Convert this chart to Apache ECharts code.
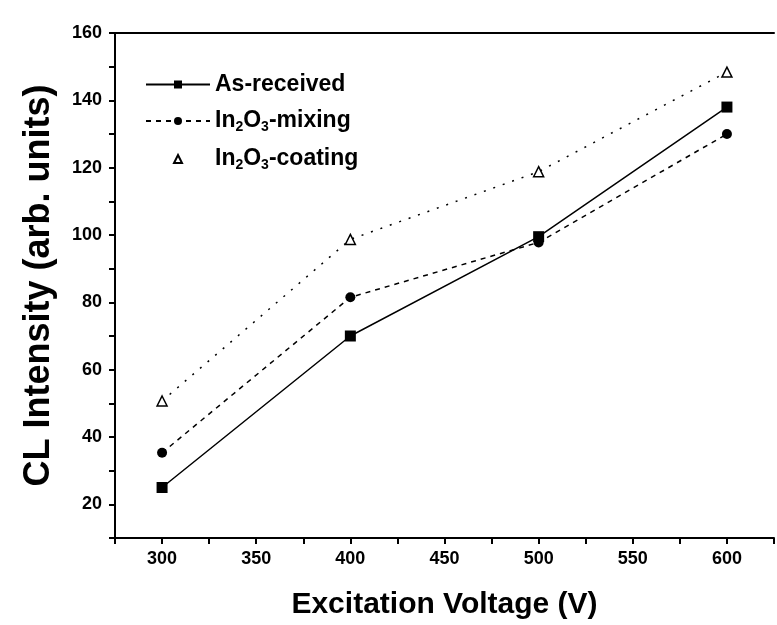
<!DOCTYPE html>
<html>
<head>
<meta charset="utf-8">
<script src="https://cdn.jsdelivr.net/npm/echarts@6/dist/echarts.min.js"></script>
<style>
  html, body { margin: 0; padding: 0; background: #fff; }
  #chart { width: 777px; height: 625px; }
</style>
</head>
<body>
<div id="chart"></div>
<script>
// data
const voltages = [300, 400, 500, 600];
const asReceived = [25, 70, 99.5, 138];
const mixing = [35.3, 81.5, 97.8, 130];
const coating = [50.7, 98.7, 118.8, 148.4];

const seriesNames = ['As-received', 'In2O3-mixing', 'In2O3-coating'];

const myChart = echarts.init(document.getElementById('chart'));

const pairs = (ys) => voltages.map((v, i) => [v, ys[i]]);

// legend labels with subscripts
function legendLabel(name) {
    if (name === 'As-received') return '{n|As-received}';
    const rest = name.replace('In2O3', '');
    return '{n|In}{s|2}{n|O}{s|3}{n|' + rest + '}';
}

const font = 'Liberation Sans, Arial, sans-serif';

let option = {
    backgroundColor: '#fff',
    animation: false,
    grid: {
        left: 115,
        top: 33,
        width: 668,
        height: 506
    },
    legend: {
        orient: 'vertical',
        left: 140,
        top: 68,
        itemWidth: 64,
        itemHeight: 10,
        itemGap: 12,
        formatter: legendLabel,
        textStyle: {
            fontFamily: font,
            fontWeight: 'bold',
            color: '#000',
            rich: {
                n: { fontSize: 23, fontWeight: 'bold', fontFamily: font, color: '#000', lineHeight: 26 },
                s: { fontSize: 14, fontWeight: 'bold', fontFamily: font, color: '#000', lineHeight: 14, padding: [12, 0, 0, 0] }
            }
        },
        data: [
            { name: 'As-received' },
            { name: 'In2O3-mixing' },
            { name: 'In2O3-coating', lineStyle: { opacity: 0 } }
        ]
    },
    xAxis: [
        {
            type: 'value',
            min: 275,
            max: 625,
            interval: 25,
            name: 'Excitation Voltage (V)',
            nameLocation: 'middle',
            nameGap: 52,
            nameTextStyle: { fontSize: 30, fontWeight: 'bold', fontFamily: font, color: '#000' },
            axisLine: { show: true, lineStyle: { color: '#000', width: 2 } },
            axisTick: { show: true, inside: false, length: 6, lineStyle: { color: '#000', width: 2 } },
            axisLabel: {
                fontSize: 18,
                fontWeight: 'bold',
                fontFamily: font,
                color: '#000',
                margin: 12,
                formatter: function (v) {
                    return (v % 50 === 0 && v >= 300 && v <= 600) ? String(v) : '';
                }
            },
            splitLine: { show: false }
        },
        {
            // top frame line
            type: 'value',
            position: 'top',
            min: 275,
            max: 625,
            axisLine: { show: true, lineStyle: { color: '#000', width: 2 } },
            axisTick: { show: false },
            axisLabel: { show: false },
            splitLine: { show: false }
        }
    ],
    yAxis: {
        type: 'value',
        min: 10,
        max: 160,
        interval: 10,
        name: 'CL Intensity (arb. units)',
        nameLocation: 'middle',
        nameGap: 58,
        nameTextStyle: { fontSize: 36, fontWeight: 'bold', fontFamily: font, color: '#000' },
        axisLine: { show: true, lineStyle: { color: '#000', width: 2 } },
        axisTick: { show: true, inside: false, length: 6, lineStyle: { color: '#000', width: 2 } },
        axisLabel: {
            fontSize: 18,
            fontWeight: 'bold',
            fontFamily: font,
            color: '#000',
            margin: 13,
            formatter: function (v) {
                return v % 20 === 0 ? String(v) : '';
            }
        },
        splitLine: { show: false }
    },
    series: [
        {
            name: seriesNames[0],
            type: 'line',
            data: pairs(asReceived),
            symbol: 'rect',
            symbolSize: 11,
            lineStyle: { color: '#000', width: 1.5, type: 'solid' },
            itemStyle: { color: '#000' }
        },
        {
            name: seriesNames[1],
            type: 'line',
            data: pairs(mixing),
            symbol: 'circle',
            symbolSize: 10,
            lineStyle: { color: '#000', width: 1.5, type: [5, 5] },
            itemStyle: { color: '#000' }
        },
        {
            name: seriesNames[2],
            type: 'line',
            data: pairs(coating),
            symbol: 'triangle',
            symbolSize: 10,
            lineStyle: { color: '#000', width: 1.5, type: [2, 8] },
            itemStyle: { color: '#fff', borderColor: '#000', borderWidth: 1.5 }
        }
    ]
};

myChart.setOption(option);
</script>
</body>
</html>
